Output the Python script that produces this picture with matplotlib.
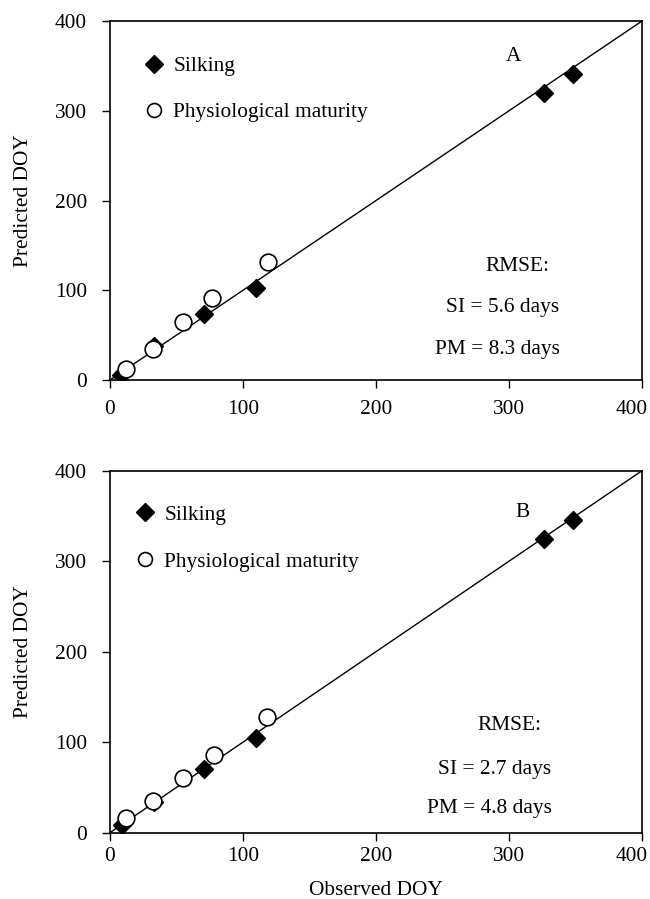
import matplotlib
matplotlib.use('Agg')
import matplotlib.pyplot as plt
from matplotlib.lines import Line2D
from matplotlib.transforms import ScaledTranslation

plt.rcParams['font.family'] = ['Liberation Serif', 'DejaVu Serif']

# panel A
si_obs_a = [8, 33, 71, 110, 326, 348]
si_pred_a = [6, 38, 73, 103, 320, 341]
pm_obs_a = [12, 32, 55, 77, 119]
pm_pred_a = [12, 35, 65, 91, 132]
# panel B
si_obs_b = [9, 33, 71, 110, 326, 348]
si_pred_b = [8, 34, 70, 105, 325, 346]
pm_obs_b = [12, 32, 55, 78, 118]
pm_pred_b = [16, 35, 60, 86, 128]

panel_labels = ['A', 'B']
rmse_si = ['5.6', '2.7']
rmse_pm = ['8.3', '4.8']
ticks = [0, 100, 200, 300, 400]

FS = 15.4
fig = plt.figure(figsize=(6.5, 8.99), dpi=100)
axA = fig.add_axes([0.1692, 0.5773, 0.8185, 0.3993])
axB = fig.add_axes([0.1692, 0.0738, 0.8185, 0.4026])

# (axes, data..., legend anchor, label pos, rmse text pos, x tick pad)
panels = [(axA, si_obs_a, si_pred_a, pm_obs_a, pm_pred_a, (0.046, 0.925), (303, 360), (338, 127, 81, 34), 9),
          (axB, si_obs_b, si_pred_b, pm_obs_b, pm_pred_b, (0.029, 0.929), (310, 354), (332, 118, 70, 27), 4.7)]

for i, (ax, sx, sy, px, py, lpos, ppos, tp, xpad) in enumerate(panels):
    ax.plot([0, 400], [0, 400], color='black', lw=1.0, zorder=2)
    ax.plot(sx, sy, ls='none', marker='D', ms=9, color='black', zorder=3)
    ax.plot(px, py, ls='none', marker='o', ms=12, mfc='white', mec='black', mew=1.2, zorder=4)
    ax.set_xlim(0, 400); ax.set_ylim(0, 400)
    ax.set_xticks(ticks); ax.set_yticks(ticks)
    ax.tick_params(direction='out', length=5.5, width=1.0, labelsize=FS, color='black')
    ax.tick_params(axis='y', pad=11)
    ax.tick_params(axis='x', pad=xpad)
    for s in ax.spines.values():
        s.set_linewidth(1.2)
    last = ax.xaxis.get_major_ticks()[-1].label1
    last.set_transform(last.get_transform() + ScaledTranslation(-10 / 100, 0, fig.dpi_scale_trans))
    ax.set_ylabel('Predicted DOY', fontsize=FS)
    ax.yaxis.set_label_coords(-0.145, 0.5)
    h = [Line2D([], [], ls='none', marker='D', ms=9, color='black'),
         Line2D([], [], ls='none', marker='o', ms=10, mfc='white', mec='black', mew=1.2)]
    ax.legend(h, ['Silking', 'Physiological maturity'], loc='upper left',
              bbox_to_anchor=lpos, borderaxespad=0, frameon=False, fontsize=FS,
              handlelength=1.0, handletextpad=0.42, labelspacing=1.2 + 0.05 * i)
    ax.text(ppos[0], ppos[1], panel_labels[i], fontsize=FS, ha='center', va='center')
    xe, y1, y2, y3 = tp
    ax.text(xe - 32, y1, 'RMSE:', fontsize=FS, ha='center', va='center')
    ax.text(xe, y2, f'SI = {rmse_si[i]} days', fontsize=FS, ha='right', va='center')
    ax.text(xe, y3, f'PM = {rmse_pm[i]} days', fontsize=FS, ha='right', va='center')

axB.set_xlabel('Observed DOY', fontsize=FS)
axB.xaxis.set_label_coords(0.5, -0.133)

fig.savefig('out.png', dpi=100)
